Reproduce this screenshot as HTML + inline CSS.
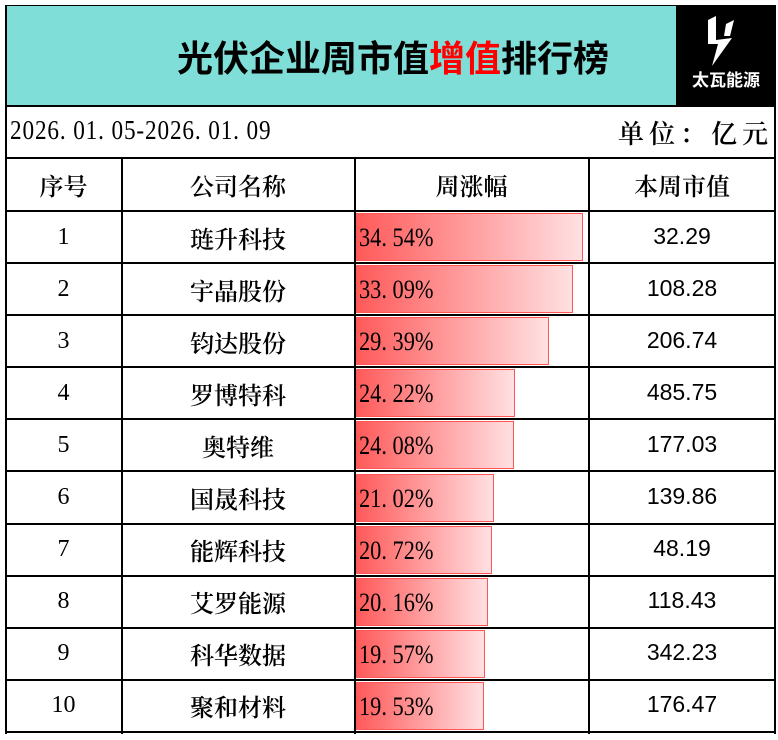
<!DOCTYPE html>
<html><head><meta charset="utf-8"><style>
body{margin:0;width:778px;height:740px;background:#fff;position:relative;overflow:hidden;font-family:"Liberation Serif","Noto Serif CJK SC",serif;}
.a{position:absolute;box-sizing:border-box;}
.hl{position:absolute;background:#000;height:2px;left:5px;width:771px;}
.vl{position:absolute;background:#000;width:2px;}
.c{position:absolute;display:flex;align-items:center;justify-content:center;font-size:24px;color:#000;font-family:"Liberation Serif","Noto Serif CJK SC",serif;font-weight:600;}
.bar{position:absolute;left:356px;height:48px;border:1.5px solid #f55;background:linear-gradient(to right,#ff5a5a,#ffe0e2);box-sizing:border-box;}
.pct{position:absolute;left:359px;font-size:26px;display:flex;align-items:center;height:52px;transform:scaleX(0.86);transform-origin:left center;}
.val{font-family:"Liberation Sans","Noto Sans CJK SC",sans-serif;font-weight:normal;font-size:23px;}
</style></head><body>
<div class="a" style="left:5px;top:6px;width:671px;height:100px;background:#7fdfd8;"></div>
<div class="a" style="left:0;top:6px;width:676px;height:100px;display:flex;align-items:center;justify-content:center;font-family:'Noto Sans CJK SC',sans-serif;font-size:36px;font-weight:bold;padding-left:110px;">光伏企业周市值<span style="color:#f00">增值</span>排行榜</div>
<div class="a" style="left:676px;top:6px;width:100px;height:101px;background:#000;"></div>
<svg class="a" style="left:700px;top:14px" width="50" height="54" viewBox="0 0 50 54"><polygon points="8,6 16,2 16,26 32,24 12,52 18,30 8,30" fill="#fff"/><polygon points="26,10 34,6 30,22 24,22" fill="#fff"/></svg>
<div class="a" style="left:676px;top:66px;width:100px;text-align:center;color:#fff;font-family:'Noto Sans CJK SC',sans-serif;font-weight:bold;font-size:17px;">太瓦能源</div>
<div class="a" style="left:10px;top:115px;font-size:27px;transform:scaleX(0.86);transform-origin:left;letter-spacing:1px;white-space:nowrap;">2026. 01. 05-2026. 01. 09</div>
<div class="a" style="left:618px;top:114px;font-size:26px;letter-spacing:5px;font-family:'Noto Serif CJK SC',serif;font-weight:600;">单位：亿元</div>
<div class="vl" style="left:5px;top:6px;height:728px;"></div>
<div class="vl" style="left:774px;top:6px;height:728px;"></div>
<div class="hl" style="top:5px;height:1px"></div>
<div class="hl" style="top:105px;width:671px"></div>
<div class="hl" style="top:157px"></div>
<div class="hl" style="top:210px"></div>
<div class="vl" style="left:121px;top:158px;height:576px;"></div>
<div class="vl" style="left:354px;top:158px;height:576px;"></div>
<div class="vl" style="left:588px;top:158px;height:576px;"></div>
<div class="c" style="left:6px;width:115px;top:158px;height:52px;">序号</div>
<div class="c" style="left:122px;width:232px;top:158px;height:52px;">公司名称</div>
<div class="c" style="left:355px;width:233px;top:158px;height:52px;">周涨幅</div>
<div class="c" style="left:589px;width:186px;top:158px;height:52px;">本周市值</div>
<div id="rows"></div>
<script>
var d=[["1","琏升科技",34.54,"32.29"],["2","宇晶股份",33.09,"108.28"],["3","钧达股份",29.39,"206.74"],["4","罗博特科",24.22,"485.75"],["5","奥特维",24.08,"177.03"],["6","国晟科技",21.02,"139.86"],["7","能辉科技",20.72,"48.19"],["8","艾罗能源",20.16,"118.43"],["9","科华数据",19.57,"342.23"],["10","聚和材料",19.53,"176.47"]];
var h="";
d.forEach(function(r,i){var t=211+i*52.1;var w=r[2]/34.54*227;
h+='<div class="c" style="left:6px;width:115px;top:'+t+'px;height:52px;font-weight:normal">'+r[0]+'</div>';
h+='<div class="c" style="left:122px;width:232px;top:'+t+'px;height:52px;">'+r[1]+'</div>';
h+='<div class="bar" style="top:'+(t+2)+'px;width:'+w+'px"></div>';
h+='<div class="pct" style="top:'+(t+1)+'px">'+r[2].toFixed(2).replace(".",". ")+'%</div>';
h+='<div class="c val" style="left:589px;width:186px;top:'+(t-1)+'px;height:52px;">'+r[3]+'</div>';
h+='<div class="hl" style="top:'+Math.min(t+51,732)+'px"></div>';});
document.getElementById("rows").innerHTML=h;
</script>
</body></html>
